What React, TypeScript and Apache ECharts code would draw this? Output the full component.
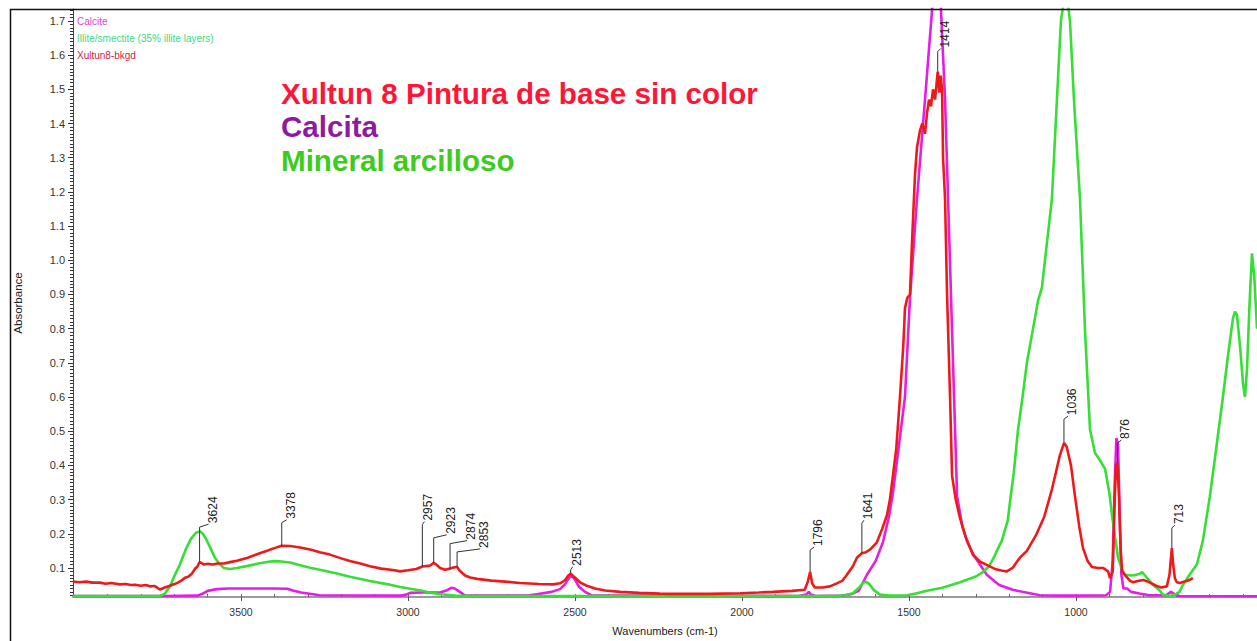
import React, { useEffect, useRef } from 'react';
import * as echarts from 'echarts';

const FONT = "'Liberation Sans', Arial, Helvetica, sans-serif";

// Axis ticks
const xTickLabels = [3500, 3000, 2500, 2000, 1500, 1000];
const yTickLabels = [0.1, 0.2, 0.3, 0.4, 0.5, 0.6, 0.7, 0.8, 0.9, 1.0, 1.1, 1.2, 1.3, 1.4, 1.5, 1.6, 1.7];

// Legend / annotation text
const legendNames = ['Calcite', 'Illite/smectite (35% illite layers)', 'Xultun8-bkgd'];
const titleLines = ['Xultun 8 Pintura de base sin color', 'Calcita', 'Mineral arcilloso'];

// Spectra: [wavenumber, absorbance]
const calcite: [number, number][] = [
  [4003, 0.018], [3728, 0.018], [3630, 0.019], [3614, 0.025], [3600, 0.033], [3572, 0.038], [3540, 0.040],
  [3400, 0.040], [3362, 0.039], [3345, 0.034], [3320, 0.028], [3290, 0.024], [3264, 0.020], [3020, 0.019],
  [3005, 0.022], [2994, 0.027], [2960, 0.028], [2904, 0.028], [2885, 0.034], [2871, 0.042], [2860, 0.040],
  [2845, 0.030], [2829, 0.019], [2640, 0.019], [2610, 0.024], [2570, 0.030], [2545, 0.038], [2530, 0.052],
  [2520, 0.068], [2510, 0.078], [2500, 0.066], [2488, 0.045], [2470, 0.030], [2450, 0.020], [1830, 0.018],
  [1808, 0.022], [1800, 0.030], [1794, 0.022], [1780, 0.018], [1700, 0.019], [1670, 0.024], [1650, 0.034],
  [1626, 0.080], [1600, 0.120], [1578, 0.175], [1560, 0.250], [1548, 0.320], [1535, 0.420], [1512, 0.600],
  [1497, 0.890], [1476, 1.180], [1452, 1.470], [1431, 1.730], [1418, 1.850], [1405, 1.750], [1392, 1.470],
  [1383, 1.180], [1374, 0.890], [1365, 0.600], [1356, 0.310], [1340, 0.220], [1325, 0.175], [1308, 0.140],
  [1267, 0.080], [1230, 0.050], [1189, 0.036], [1108, 0.020], [1050, 0.019], [1000, 0.019], [910, 0.020],
  [898, 0.030], [890, 0.120], [884, 0.350], [879, 0.480], [874, 0.460], [869, 0.250], [864, 0.080],
  [858, 0.040], [847, 0.040], [835, 0.030], [810, 0.025], [780, 0.020], [730, 0.020], [716, 0.030],
  [706, 0.024], [690, 0.018], [458, 0.017],
];

const illite: [number, number][] = [
  [4003, 0.018], [3743, 0.018], [3728, 0.025], [3713, 0.045], [3700, 0.075], [3683, 0.110], [3665, 0.155],
  [3650, 0.185], [3635, 0.203], [3623, 0.207], [3614, 0.200], [3602, 0.180], [3590, 0.155], [3578, 0.130],
  [3565, 0.112], [3551, 0.100], [3533, 0.097], [3512, 0.100], [3480, 0.106], [3452, 0.112], [3413, 0.119],
  [3395, 0.120], [3380, 0.119], [3353, 0.116], [3323, 0.108], [3290, 0.100], [3250, 0.092], [3213, 0.084],
  [3174, 0.074], [3114, 0.062], [3060, 0.052], [3024, 0.044], [2980, 0.037], [2958, 0.033], [2930, 0.027],
  [2900, 0.023], [2860, 0.019], [2800, 0.018], [1720, 0.018], [1690, 0.020], [1668, 0.026], [1650, 0.042],
  [1638, 0.056], [1629, 0.060], [1618, 0.052], [1605, 0.035], [1587, 0.022], [1560, 0.019], [1506, 0.020],
  [1480, 0.025], [1446, 0.033], [1400, 0.042], [1347, 0.058], [1300, 0.075], [1279, 0.088], [1260, 0.105],
  [1246, 0.130], [1237, 0.150], [1222, 0.180], [1204, 0.240], [1198, 0.290], [1186, 0.380], [1174, 0.500],
  [1160, 0.600], [1147, 0.700], [1123, 0.830], [1114, 0.880], [1102, 0.920], [1087, 1.050], [1072, 1.180],
  [1057, 1.470], [1045, 1.700], [1030, 1.800], [1018, 1.700], [1006, 1.470], [988, 1.180], [973, 0.795],
  [958, 0.505], [943, 0.436], [928, 0.415], [913, 0.390], [900, 0.320], [892, 0.254], [880, 0.170],
  [874, 0.130], [862, 0.095], [853, 0.080], [830, 0.078], [810, 0.082], [802, 0.088], [795, 0.080],
  [778, 0.060], [769, 0.050], [750, 0.035], [740, 0.022], [720, 0.018], [704, 0.022], [690, 0.030],
  [680, 0.050], [660, 0.080], [638, 0.110], [620, 0.180], [599, 0.310], [580, 0.450], [560, 0.600],
  [545, 0.720], [530, 0.830], [524, 0.850], [518, 0.840], [508, 0.740], [500, 0.640], [494, 0.600],
  [488, 0.680], [480, 0.880], [473, 1.020], [466, 0.950], [458, 0.800],
];

const xultun: [number, number][] = [
  [4003, 0.060], [3985, 0.058], [3964, 0.060], [3945, 0.057], [3922, 0.057], [3905, 0.054], [3890, 0.056],
  [3862, 0.052], [3845, 0.053], [3830, 0.050], [3817, 0.051], [3800, 0.048], [3785, 0.050], [3770, 0.046],
  [3758, 0.047], [3743, 0.037], [3735, 0.040], [3728, 0.043], [3713, 0.048], [3701, 0.052], [3689, 0.057],
  [3680, 0.062], [3668, 0.071], [3658, 0.074], [3648, 0.082], [3638, 0.097], [3630, 0.105], [3624, 0.117],
  [3610, 0.110], [3600, 0.112], [3585, 0.110], [3570, 0.113], [3551, 0.113], [3533, 0.117], [3512, 0.121],
  [3480, 0.130], [3452, 0.140], [3420, 0.151], [3400, 0.158], [3378, 0.165], [3353, 0.164], [3323, 0.160],
  [3290, 0.153], [3264, 0.146], [3234, 0.139], [3200, 0.128], [3174, 0.120], [3140, 0.112], [3114, 0.105],
  [3080, 0.098], [3040, 0.093], [3024, 0.090], [3000, 0.093], [2975, 0.097], [2957, 0.104], [2940, 0.106],
  [2932, 0.108], [2923, 0.115], [2915, 0.110], [2904, 0.100], [2889, 0.095], [2874, 0.098], [2866, 0.101],
  [2853, 0.103], [2845, 0.092], [2829, 0.078], [2814, 0.072], [2793, 0.068], [2750, 0.063], [2710, 0.060],
  [2665, 0.056], [2608, 0.053], [2565, 0.052], [2545, 0.055], [2530, 0.064], [2520, 0.078], [2513, 0.083],
  [2498, 0.070], [2485, 0.058], [2465, 0.048], [2440, 0.040], [2410, 0.034], [2365, 0.030], [2308, 0.027],
  [2246, 0.025], [2210, 0.024], [2100, 0.024], [2006, 0.026], [1950, 0.028], [1907, 0.030], [1850, 0.033],
  [1812, 0.036], [1803, 0.060], [1796, 0.088], [1790, 0.055], [1782, 0.043], [1758, 0.043], [1737, 0.046],
  [1716, 0.055], [1700, 0.062], [1686, 0.080], [1668, 0.105], [1656, 0.130], [1641, 0.143], [1629, 0.146],
  [1615, 0.155], [1596, 0.175], [1580, 0.215], [1566, 0.254], [1557, 0.300], [1548, 0.370], [1538, 0.450],
  [1527, 0.600], [1517, 0.750], [1512, 0.860], [1505, 0.890], [1497, 0.900], [1491, 1.050], [1482, 1.250],
  [1476, 1.330], [1467, 1.380], [1460, 1.400], [1452, 1.370], [1446, 1.430], [1440, 1.470], [1434, 1.450],
  [1428, 1.500], [1422, 1.470], [1417, 1.520], [1414, 1.552], [1409, 1.490], [1405, 1.540], [1401, 1.500],
  [1398, 1.300], [1392, 1.180], [1386, 0.900], [1377, 0.600], [1371, 0.370], [1360, 0.300], [1347, 0.245],
  [1330, 0.190], [1308, 0.138], [1287, 0.118], [1267, 0.109], [1240, 0.096], [1220, 0.092], [1207, 0.090],
  [1190, 0.100], [1168, 0.130], [1147, 0.150], [1120, 0.195], [1095, 0.250], [1072, 0.330], [1060, 0.380],
  [1048, 0.430], [1036, 0.465], [1028, 0.455], [1015, 0.400], [1003, 0.310], [990, 0.220], [979, 0.158],
  [965, 0.120], [952, 0.103], [935, 0.100], [919, 0.100], [904, 0.090], [898, 0.070], [890, 0.090],
  [884, 0.300], [880, 0.400], [876, 0.407], [872, 0.330], [866, 0.150], [862, 0.090], [850, 0.075],
  [838, 0.062], [829, 0.058], [815, 0.062], [799, 0.065], [780, 0.058], [760, 0.048], [745, 0.043],
  [728, 0.046], [720, 0.080], [713, 0.158], [709, 0.110], [704, 0.070], [698, 0.058], [689, 0.056],
  [675, 0.060], [660, 0.065], [650, 0.070],
];

// Peak labels (on the Xultun8-bkgd spectrum)
const peakWn = [3624, 3378, 2957, 2923, 2874, 2853, 2513, 1796, 1641, 1414, 1036, 876, 713];
const peakAbs = [0.117, 0.165, 0.104, 0.115, 0.098, 0.103, 0.083, 0.088, 0.143, 1.552, 0.465, 0.407, 0.158];

// Leader styling per label: [vertical length px, text x-offset px]
const peakLeader: [number, number][] = [
  [35, 13], [23, 9], [42, 6], [25, 17], [25, 21], [15, 27], [4, 6], [22, 8], [30, 6], [20, 7], [24, 8], [20, 8], [20, 7],
];

const COLORS = { calcite: '#e41ee4', illite: '#36de36', xultun: '#ee1a1a' };

export default function App() {
  const ref = useRef<HTMLDivElement>(null);
  useEffect(() => {
    if (!ref.current) return;
    const chart = echarts.init(ref.current, undefined, { renderer: 'svg' });
    const minorY: number[] = [];
    for (let k = 2; k <= 173; k++) minorY.push(k / 100);
    const minorX: number[] = [];
    for (let k = 5; k <= 39; k++) minorX.push(k * 100);

    const xBase = {
      type: 'value', min: 458, max: 4003, inverse: true, position: 'bottom', splitLine: { show: false },
    };
    const yBase = { type: 'value', min: 0.015, max: 1.735, position: 'left', splitLine: { show: false } };

    const option: any = {
      animation: false,
      backgroundColor: '#ffffff',
      grid: { left: 73, right: 0, top: 9, bottom: 39, containLabel: false },
      xAxis: [
        {
          ...xBase,
          name: 'Wavenumbers (cm-1)',
          nameLocation: 'middle',
          nameGap: 28,
          nameTextStyle: { fontFamily: FONT, fontSize: 11, color: '#222' },
          axisLine: { show: true, lineStyle: { color: '#9a9a9a', width: 2 } },
          axisTick: { show: true, customValues: xTickLabels, length: 4, lineStyle: { color: '#555' } },
          axisLabel: {
            customValues: xTickLabels, fontFamily: FONT, fontSize: 10.5, color: '#333', margin: 9,
            formatter: (v: number) => String(v),
          },
        },
        {
          ...xBase,
          axisLine: { show: false },
          axisTick: { show: true, inside: true, customValues: minorX, length: 3, lineStyle: { color: '#666' } },
          axisLabel: { show: false },
        },
      ],
      yAxis: [
        {
          ...yBase,
          name: 'Absorbance',
          nameLocation: 'middle',
          nameGap: 49,
          nameTextStyle: { fontFamily: FONT, fontSize: 11.5, color: '#222' },
          axisLine: { show: true, lineStyle: { color: '#444', width: 1 } },
          axisTick: { show: true, customValues: yTickLabels, length: 5, lineStyle: { color: '#333' } },
          axisLabel: {
            customValues: yTickLabels, fontFamily: FONT, fontSize: 11, color: '#333', margin: 8,
            formatter: (v: number) => v.toFixed(1),
          },
        },
        {
          ...yBase,
          axisLine: { show: false },
          axisTick: { show: true, customValues: minorY, length: 3, lineStyle: { color: '#333' } },
          axisLabel: { show: false },
        },
      ],
      series: [
        {
          name: legendNames[0], type: 'line', data: calcite, showSymbol: false, symbol: 'none',
          lineStyle: { color: COLORS.calcite, width: 2.6 }, z: 2,
        },
        {
          name: legendNames[1], type: 'line', data: illite, showSymbol: false, symbol: 'none',
          lineStyle: { color: COLORS.illite, width: 2.6 }, z: 3,
        },
        {
          name: legendNames[2], type: 'line', data: xultun, showSymbol: false, symbol: 'none',
          lineStyle: { color: COLORS.xultun, width: 2.6 }, z: 4,
        },
        {
          type: 'custom',
          clip: false,
          z: 5,
          data: peakWn.map((w, i) => [w, peakAbs[i]]),
          encode: { x: 0, y: 1 },
          renderItem: (params: any, api: any) => {
            const i = params.dataIndex;
            const p = api.coord([api.value(0), api.value(1)]);
            const [len, dx] = peakLeader[i];
            const top = p[1] - len;
            const tx = p[0] + dx;
            const ty = top - 4;
            return {
              type: 'group',
              children: [
                {
                  type: 'polyline',
                  shape: { points: [[p[0], p[1]], [p[0], top], [Math.max(p[0], tx - 4), ty + 1]] },
                  style: { stroke: '#333', lineWidth: 1, fill: null },
                },
                {
                  type: 'text',
                  x: tx,
                  y: ty,
                  rotation: Math.PI / 2,
                  style: {
                    text: String(peakWn[i]), fontFamily: FONT, fontSize: 12, fill: '#222',
                    align: 'left', verticalAlign: 'middle',
                  },
                },
              ],
            };
          },
        },
      ],
      graphic: [
        {
          type: 'rect', silent: true, z: 100,
          shape: { x: 10.5, y: 9.5, width: 1400, height: 800 },
          style: { fill: null, stroke: '#111', lineWidth: 1.5 },
        },
        {
          type: 'text', x: 77, y: 21, z: 100,
          style: { text: legendNames[0], fontFamily: FONT, fontSize: 10, fill: '#dc44dc', verticalAlign: 'middle' },
        },
        {
          type: 'text', x: 77, y: 38, z: 100,
          style: { text: legendNames[1], fontFamily: FONT, fontSize: 10, fill: '#3ed88a', verticalAlign: 'middle' },
        },
        {
          type: 'text', x: 77, y: 55, z: 100,
          style: { text: legendNames[2], fontFamily: FONT, fontSize: 10, fill: '#cc1f45', verticalAlign: 'middle' },
        },
        {
          type: 'text', x: 281, y: 93, z: 100,
          style: { text: titleLines[0], fontFamily: FONT, fontWeight: 'bold', fontSize: 29.6, fill: '#ff1535', verticalAlign: 'middle' },
        },
        {
          type: 'text', x: 281, y: 126, z: 100,
          style: { text: titleLines[1], fontFamily: FONT, fontWeight: 'bold', fontSize: 29.6, fill: '#8e1aa2', verticalAlign: 'middle' },
        },
        {
          type: 'text', x: 281, y: 160, z: 100,
          style: { text: titleLines[2], fontFamily: FONT, fontWeight: 'bold', fontSize: 29.6, fill: '#3ccc1e', verticalAlign: 'middle' },
        },
      ],
    };
    chart.setOption(option);
    return () => chart.dispose();
  }, []);
  return <div ref={ref} style={{ position: 'fixed', left: 0, top: 0, width: 1257, height: 641, background: '#fff' }} />;
}
